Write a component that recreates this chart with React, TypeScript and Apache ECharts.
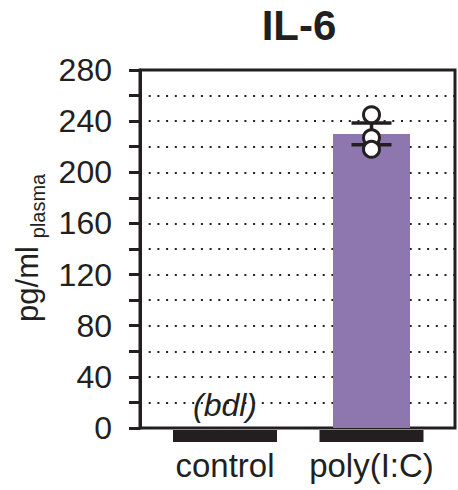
import React, { useEffect, useRef } from "react";
import * as echarts from "echarts";

const categories = ["control", "poly(I:C)"];
const barValues = [0, 230];
const semValues = [0, 8.5];
const pointValues = [245, 227, 218];
const yTicks = [0, 40, 80, 120, 160, 200, 240, 280];

const INK = "#231f20";
const FONT = "'Liberation Sans', Arial, Helvetica, sans-serif";

export default function App() {
  const ref = useRef<HTMLDivElement>(null);
  useEffect(() => {
    if (!ref.current) return;
    document.body.style.margin = "0";
    const chart = echarts.init(ref.current, undefined, { renderer: "svg" });
    const option: any = {
      animation: false,
      backgroundColor: "#ffffff",
      textStyle: { fontFamily: FONT, color: INK },
      grid: [
        { left: 140, width: 315, top: 70, bottom: 62, show: true, borderColor: INK, borderWidth: 3, backgroundColor: "transparent" },
        { left: 151.75, width: 293, top: 70, bottom: 62 },
      ],
      xAxis: [
        { type: "value", gridIndex: 0, show: false, min: 0, max: 1 },
        {
          type: "category",
          gridIndex: 1,
          data: categories,
          axisLine: { show: false },
          axisTick: { show: false },
          axisLabel: { interval: 0, hideOverlap: false, fontSize: 33, color: INK, fontFamily: FONT, margin: 21 },
        },
      ],
      yAxis: [
        {
          type: "value",
          gridIndex: 0,
          min: 0,
          max: 280,
          interval: 20,
          axisLine: { show: true, lineStyle: { color: INK, width: 3 } },
          axisTick: { show: true, length: 11, lineStyle: { color: INK, width: 3 } },
          axisLabel: {
            fontSize: 32,
            color: INK,
            fontFamily: FONT,
            margin: 28,
            formatter: (v: number) => (yTicks.indexOf(v) >= 0 ? String(v) : ""),
          },
          splitLine: { show: true, lineStyle: { color: INK, width: 2, type: [2, 6.7] } },
        },
        { type: "value", gridIndex: 1, min: 0, max: 280, show: false, splitLine: { show: false } },
      ],
      series: [
        {
          type: "custom",
          xAxisIndex: 1,
          yAxisIndex: 1,
          clip: false,
          data: categories.map((_, i) => [i, 0]),
          renderItem: (params: any, api: any) => {
            const p = api.coord([api.value(0), 0]);
            return {
              type: "rect",
              shape: { x: p[0] - 52, y: p[1] + 2, width: 104, height: 12 },
              style: { fill: INK },
            };
          },
          z: 5,
        },
        {
          type: "bar",
          xAxisIndex: 1,
          yAxisIndex: 1,
          barWidth: 77,
          itemStyle: { color: "#8e76ae" },
          data: barValues.map((v, i) =>
            i === 0
              ? {
                  value: v,
                  label: {
                    show: true,
                    position: "top",
                    distance: 7,
                    formatter: "(bdl)",
                    fontStyle: "italic",
                    fontSize: 32,
                    color: INK,
                    fontFamily: FONT,
                  },
                }
              : { value: v }
          ),
          z: 2,
        },
        {
          type: "custom",
          xAxisIndex: 1,
          yAxisIndex: 1,
          data: barValues.map((v, i) => [i, v, semValues[i]]).filter((d) => d[2] > 0),
          renderItem: (params: any, api: any) => {
            const x = api.value(0);
            const m = api.value(1);
            const e = api.value(2);
            const t = api.coord([x, m + e]);
            const b = api.coord([x, m - e]);
            const st = { stroke: INK, lineWidth: 3.5 };
            return {
              type: "group",
              children: [
                { type: "line", shape: { x1: t[0], y1: t[1], x2: b[0], y2: b[1] }, style: st },
                { type: "line", shape: { x1: t[0] - 20, y1: t[1], x2: t[0] + 20, y2: t[1] }, style: st },
                { type: "line", shape: { x1: b[0] - 20, y1: b[1], x2: b[0] + 20, y2: b[1] }, style: st },
              ],
            };
          },
          z: 6,
        },
        {
          type: "scatter",
          xAxisIndex: 1,
          yAxisIndex: 1,
          symbol: "circle",
          symbolSize: 16,
          itemStyle: { color: "#ffffff", borderColor: INK, borderWidth: 3, opacity: 1 },
          data: pointValues.map((v) => [1, v]),
          z: 7,
        },
      ],
      graphic: [
        {
          type: "text",
          x: 299,
          y: 25,
          style: { text: "IL-6", fontSize: 42, fontWeight: "bold", fontFamily: FONT, fill: INK, textAlign: "center", textVerticalAlign: "middle" },
        },
        {
          type: "text",
          x: 27,
          y: 284,
          rotation: Math.PI / 2,
          style: { text: "pg/ml", fontSize: 31, fontFamily: FONT, fill: INK, textAlign: "center", textVerticalAlign: "middle" },
        },
        {
          type: "text",
          x: 38,
          y: 206,
          rotation: Math.PI / 2,
          style: { text: "plasma", fontSize: 20, fontFamily: FONT, fill: INK, textAlign: "center", textVerticalAlign: "middle" },
        },
      ],
    };
    chart.setOption(option);
    return () => chart.dispose();
  }, []);
  return <div ref={ref} style={{ position: "fixed", left: 0, top: 0, width: 458, height: 490 }} />;
}
